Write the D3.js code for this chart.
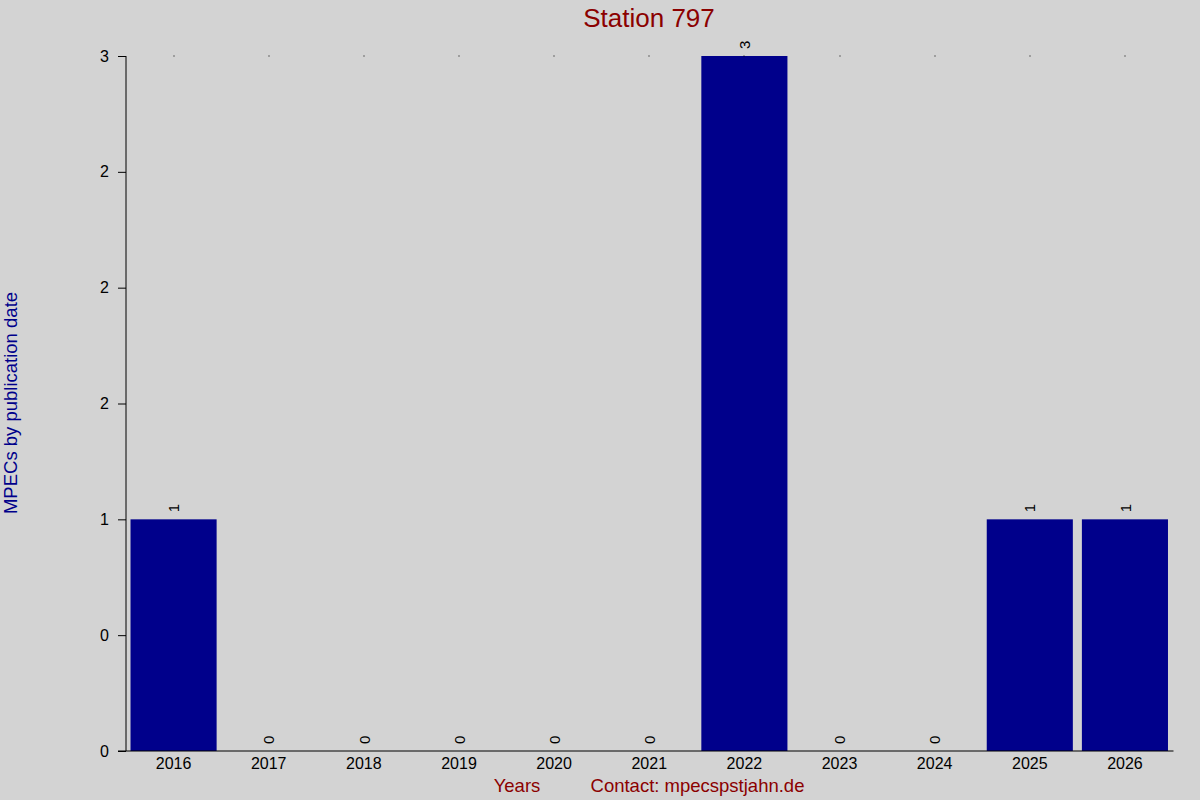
<!DOCTYPE html>
<html>
<head>
<meta charset="utf-8">
<script src="https://cdn.jsdelivr.net/npm/d3@7"></script>
<style>
html,body{margin:0;padding:0;background:#d3d3d3;}
svg{display:block;font-family:"Liberation Sans",Arial,sans-serif;}
</style>
</head>
<body>
<svg id="chart" width="1200" height="800"></svg>
<script>
const years = ["2016","2017","2018","2019","2020","2021","2022","2023","2024","2025","2026"];
const counts = [1,0,0,0,0,0,3,0,0,1,1];
const yTickValues = [0,0.5,1,1.5,2,2.5,3];
const yTickLabels = ["0","0","1","2","2","2","3"];
const titleText = "Station 797";
const yTitle = "MPECs by publication date";
const xTitle = "Years";
const contactText = "Contact: mpecspstjahn.de";

const svg = d3.select("#chart");
svg.append("rect").attr("width",1200).attr("height",800).attr("fill","#d3d3d3");

const pLeft = 126, pRight = 1172.5, pTop = 56, pBottom = 751;
const x = d3.scaleBand().domain(years).range([pLeft, pRight]).paddingInner(0.095).paddingOuter(0.0475);
const y = d3.scaleLinear().domain([0,3]).range([pBottom, pTop]);

// bars
svg.append("g").selectAll("rect").data(years).join("rect")
  .attr("x", d => x(d))
  .attr("width", x.bandwidth())
  .attr("y", (d,i) => y(counts[i]))
  .attr("height", (d,i) => y(0) - y(counts[i]))
  .attr("fill", "#00008b");

// top dots
svg.append("g").selectAll("rect").data(years).join("rect")
  .attr("x", d => Math.round(x(d) + x.bandwidth()/2) - 0.5)
  .attr("y", y(3) - 0.5)
  .attr("width", 1).attr("height", 1)
  .attr("fill", "#000");

// value labels
svg.append("g").selectAll("text").data(years).join("text")
  .attr("transform", (d,i) => `translate(${x(d) + x.bandwidth()/2},${y(counts[i]) - 7}) rotate(-90)`)
  .attr("dy", "0.38em")
  .attr("text-anchor", "start")
  .attr("font-size", 15)
  .attr("fill", "#000")
  .text((d,i) => counts[i]);

// y axis
const yAxis = d3.axisLeft(y).tickValues(yTickValues).tickSize(8).tickPadding(9)
  .tickFormat((d,i) => yTickLabels[i]);
const gy = svg.append("g").attr("transform", `translate(${pLeft},0)`).call(yAxis);
gy.select(".domain").attr("d", `M0,${pTop}V${pBottom}`).attr("stroke","#000");
gy.selectAll(".tick line").attr("stroke","#000");
gy.selectAll(".tick text").attr("font-size", 16).attr("fill","#000")
  .attr("font-family", '"Liberation Sans",Arial,sans-serif');

// x axis
const xAxis = d3.axisBottom(x).tickSize(0).tickPadding(7);
const gx = svg.append("g").attr("transform", `translate(0,${pBottom})`).call(xAxis);
gx.select(".domain").attr("d", `M${pLeft-8},0H${pRight+1}`).attr("stroke","#000");
gx.selectAll(".tick text").attr("font-size", 16).attr("fill","#000")
  .attr("font-family", '"Liberation Sans",Arial,sans-serif');

// title
svg.append("text").attr("x", 649).attr("y", 27).attr("text-anchor","middle")
  .attr("font-size", 26).attr("fill", "#8b0000").text(titleText);

// y title
svg.append("text").attr("transform", "translate(17,403) rotate(-90)")
  .attr("text-anchor","middle").attr("font-size", 18.5).attr("fill","#00008b").text(yTitle);

// bottom texts
svg.append("text").attr("x", 517).attr("y", 792).attr("text-anchor","middle")
  .attr("font-size", 18.5).attr("fill","#8b0000").text(xTitle);
svg.append("text").attr("x", 697.5).attr("y", 792).attr("text-anchor","middle")
  .attr("font-size", 18.5).attr("fill","#8b0000").text(contactText);
</script>
</body>
</html>
